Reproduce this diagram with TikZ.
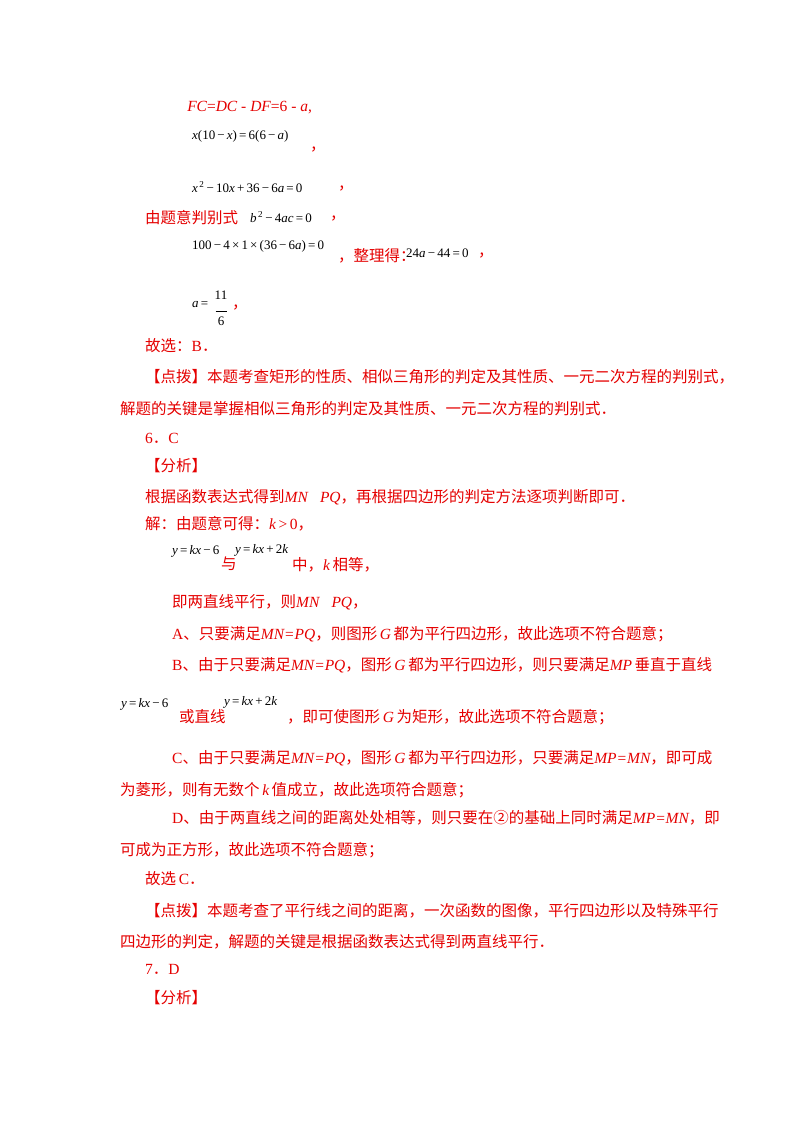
\documentclass[tikz,border=0pt]{standalone}
\usepackage{fontspec}
\setmainfont{Noto Sans CJK SC}
\newfontfamily\lat{Liberation Serif}
\newcommand\I[1]{{\lat\itshape #1}}
\newcommand\R[1]{{\lat #1}}
\begin{document}
\begin{tikzpicture}[x=1pt,y=-1pt,
  t/.style={anchor=west,inner sep=0pt,text=red!90!black,font=\fontsize{15.5}{18}\selectfont},
  m/.style={anchor=west,inner sep=0pt,text=black,font=\lat\fontsize{13}{15}\selectfont}]
\fill[white] (0,0) rectangle (800,1132);
\useasboundingbox (0,0) rectangle (800,1132);
\node[t] (l1) at (175,108) {\R{∴}\I{FC}\R{=}\I{DC}\R{ - }\I{DF}\R{=6 - }\I{a}\R{,}};
\node[t] (l2a) at (175,151) {\R{∴}};
\node[m] (l2b) at (192,136) {\I{x}(10\,−\,\I{x})\,=\,6(6\,−\,\I{a})};
\node[t] (l2c) at (310,150) {，};
\node[t] (l3a) at (175,188) {\R{∴}};
\node[m] (l3b) at (192,187) {\I{x}\textsuperscript{\,2}\,−\,10\I{x}\,+\,36\,−\,6\I{a}\,=\,0};
\node[t] (l3c) at (338,189) {，};
\node[t] (l4a) at (145,218) {由题意判别式};
\node[m] (l4b) at (250,217) {\I{b}\textsuperscript{\,2}\,−\,4\I{ac}\,=\,0};
\node[t] (l4c) at (330,219) {，};
\node[t] (l5a) at (175,258) {\R{∴}};
\node[m] (l5b) at (192,246) {100\,−\,4\,×\,1\,×\,(36\,−\,6\I{a})\,=\,0};
\node[t] (l5c) at (338,256) {，整理得：};
\node[m] (l5d) at (406,253) {24\I{a}\,−\,44\,=\,0};
\node[t] (l5e) at (478,256) {，};
\node[t] (l6a) at (175,306) {\R{∴}};
\node[m] (l6b) at (192,305) {\I{a}\,=};
\node[m,align=center,anchor=center] (l6f) at (221,308) {11\\[-3pt]\rule{11pt}{0.5pt}\\[-1pt]6};
\node[t] (l6c) at (232,308) {，};
\node[t] (l7) at (145,346) {故选：\R{B}．};
\node[t] (l8) at (145,377) {【点拨】本题考查矩形的性质、相似三角形的判定及其性质、一元二次方程的判别式，};
\node[t] (l9) at (120,409) {解题的关键是掌握相似三角形的判定及其性质、一元二次方程的判别式．};
\node[t] (l10) at (145,438) {\R{6}．\R{C}};
\node[t] (l11) at (145,466) {【分析】};
\node[t] (l12) at (145,497) {根据函数表达式得到\I{MN}\R{∥}\I{PQ}，再根据四边形的判定方法逐项判断即可．};
\node[t] (l13) at (145,524) {解：由题意可得：\I{k}\R{\,>\,0}，};
\node[m] (l14a) at (172,551) {\I{y}\,=\,\I{kx}\,−\,6};
\node[t] (l14b) at (221,564) {与};
\node[m] (l14c) at (235,550) {\I{y}\,=\,\I{kx}\,+\,2\I{k}};
\node[t] (l14d) at (292,565) {中，\I{k}\,相等，};
\node[t] (l15) at (172,602) {即两直线平行，则\I{MN}\R{∥}\I{PQ}，};
\node[t] (l16) at (172,634) {\R{A}、只要满足\I{MN=PQ}，则图形\,\I{G}\,都为平行四边形，故此选项不符合题意；};
\node[t] (l17) at (172,665) {\R{B}、由于只要满足\I{MN=PQ}，图形\,\I{G}\,都为平行四边形，则只要满足\I{MP}\,垂直于直线};
\node[m] (l18a) at (121,704) {\I{y}\,=\,\I{kx}\,−\,6};
\node[t] (l18b) at (179,717) {或直线};
\node[m] (l18c) at (224,702) {\I{y}\,=\,\I{kx}\,+\,2\I{k}};
\node[t] (l18d) at (287,717) {，即可使图形\,\I{G}\,为矩形，故此选项不符合题意；};
\node[t] (l19) at (172,758) {\R{C}、由于只要满足\I{MN=PQ}，图形\,\I{G}\,都为平行四边形，只要满足\I{MP=MN}，即可成};
\node[t] (l20) at (120,790) {为菱形，则有无数个\,\I{k}\,值成立，故此选项符合题意；};
\node[t] (l21) at (172,818) {\R{D}、由于两直线之间的距离处处相等，则只要在②的基础上同时满足\I{MP=MN}，即};
\node[t] (l22) at (120,850) {可成为正方形，故此选项不符合题意；};
\node[t] (l23) at (145,879) {故选\,\R{C}．};
\node[t] (l24) at (145,911) {【点拨】本题考查了平行线之间的距离，一次函数的图像，平行四边形以及特殊平行};
\node[t] (l25) at (120,942) {四边形的判定，解题的关键是根据函数表达式得到两直线平行．};
\node[t] (l26) at (145,969) {\R{7}．\R{D}};
\node[t] (l27) at (145,998) {【分析】};
\end{tikzpicture}
\end{document}
